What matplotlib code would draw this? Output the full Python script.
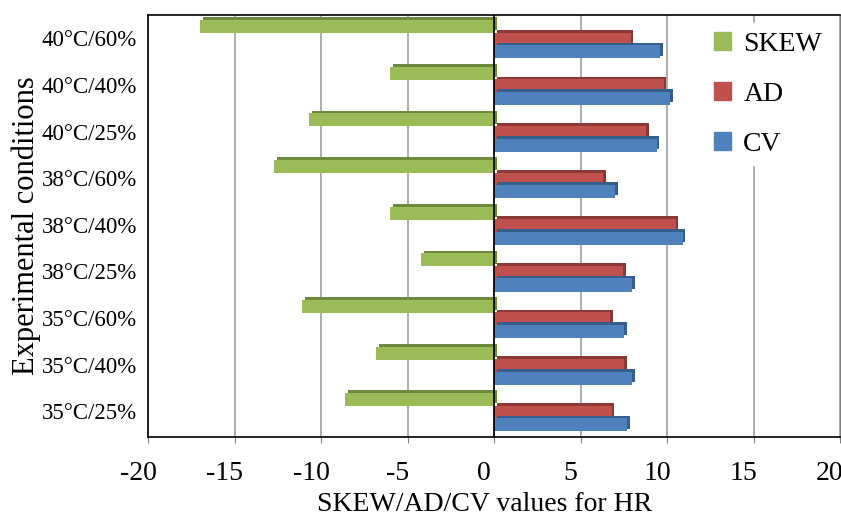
import matplotlib.pyplot as plt
import matplotlib.patches as mpatches
import matplotlib.patheffects as pe
import matplotlib.transforms as mtrans
import numpy as np

plt.rcParams['font.family'] = ['Liberation Serif', 'DejaVu Serif']
plt.rcParams['axes.unicode_minus'] = False

conditions = ['35°C/25%', '35°C/40%', '35°C/60%',
              '38°C/25%', '38°C/40%', '38°C/60%',
              '40°C/25%', '40°C/40%', '40°C/60%']
skew = [-8.6, -6.8, -11.1, -4.2, -6.0, -12.7, -10.7, -6.0, -17.0]
ad = [6.8, 7.5, 6.7, 7.45, 10.5, 6.3, 8.8, 9.8, 7.9]
cv = [7.7, 8.0, 7.5, 8.0, 10.9, 7.0, 9.4, 10.2, 9.6]

series = [('SKEW', skew, '#9BBB59', '#6E8B3D'),
          ('AD', ad, '#C0504D', '#8C3836'),
          ('CV', cv, '#4F81BD', '#375D8A')]


def main():
    fig = plt.figure(figsize=(8.41, 5.20), dpi=100)
    ax = fig.add_axes([148 / 841, (520 - 437) / 520, 692 / 841, 422 / 520])

    y = np.arange(len(conditions))
    h = 0.28
    offs = [0.25, -0.02, -0.29]
    for (name, vals, col, dark), off in zip(series, offs):
        ax.barh(y + off, vals, height=h, color=col, zorder=3,
                path_effects=[pe.SimplePatchShadow(offset=(2, 2), shadow_rgbFace=dark, alpha=1),
                              pe.Normal()])

    ax.set_xlim(-20, 20)
    ax.set_ylim(-0.55, 8.5)
    ax.set_xticks(np.arange(-20, 21, 5))
    ax.set_yticks(y)
    ax.set_yticklabels(conditions, fontsize=16.5)
    ax.tick_params(axis='x', labelsize=20, pad=13, length=4, color='#808080')
    ax.tick_params(axis='y', length=0, pad=8)
    # front labels sit a little to the left of the back wall in the original
    shift = mtrans.ScaledTranslation(-10 / 100, 0, fig.dpi_scale_trans)
    for lab in ax.get_xticklabels():
        lab.set_transform(lab.get_transform() + shift)
    ax.grid(axis='x', color='#A0A0A0', linewidth=1.2, zorder=0)
    ax.axvline(0, color='black', linewidth=1.2, zorder=4)

    for s in ['top', 'left', 'bottom']:
        ax.spines[s].set_color('black')
        ax.spines[s].set_linewidth(1.2)
    ax.spines['right'].set_color('#808080')

    ax.set_xlabel('SKEW/AD/CV values for HR', fontsize=20)
    ax.xaxis.set_label_coords(0.486, -0.13)
    ax.set_ylabel('Experimental conditions', fontsize=22)
    ax.yaxis.set_label_coords(-0.155, 0.5)

    handles = [mpatches.Patch(color=c, label=n) for n, v, c, d in series]
    leg = ax.legend(handles=handles, loc='upper left', bbox_to_anchor=(0.786, 1.013),
                    frameon=True, fontsize=20, handlelength=0.6, handleheight=0.6,
                    labelspacing=0.9, handletextpad=0.45, borderpad=0.3)
    leg.get_frame().set_edgecolor('white')
    leg.get_frame().set_facecolor('white')
    leg.get_frame().set_alpha(1)
    leg.set_zorder(5)

    fig.savefig('out.png', dpi=100)


if __name__ == "__main__":
    main()
